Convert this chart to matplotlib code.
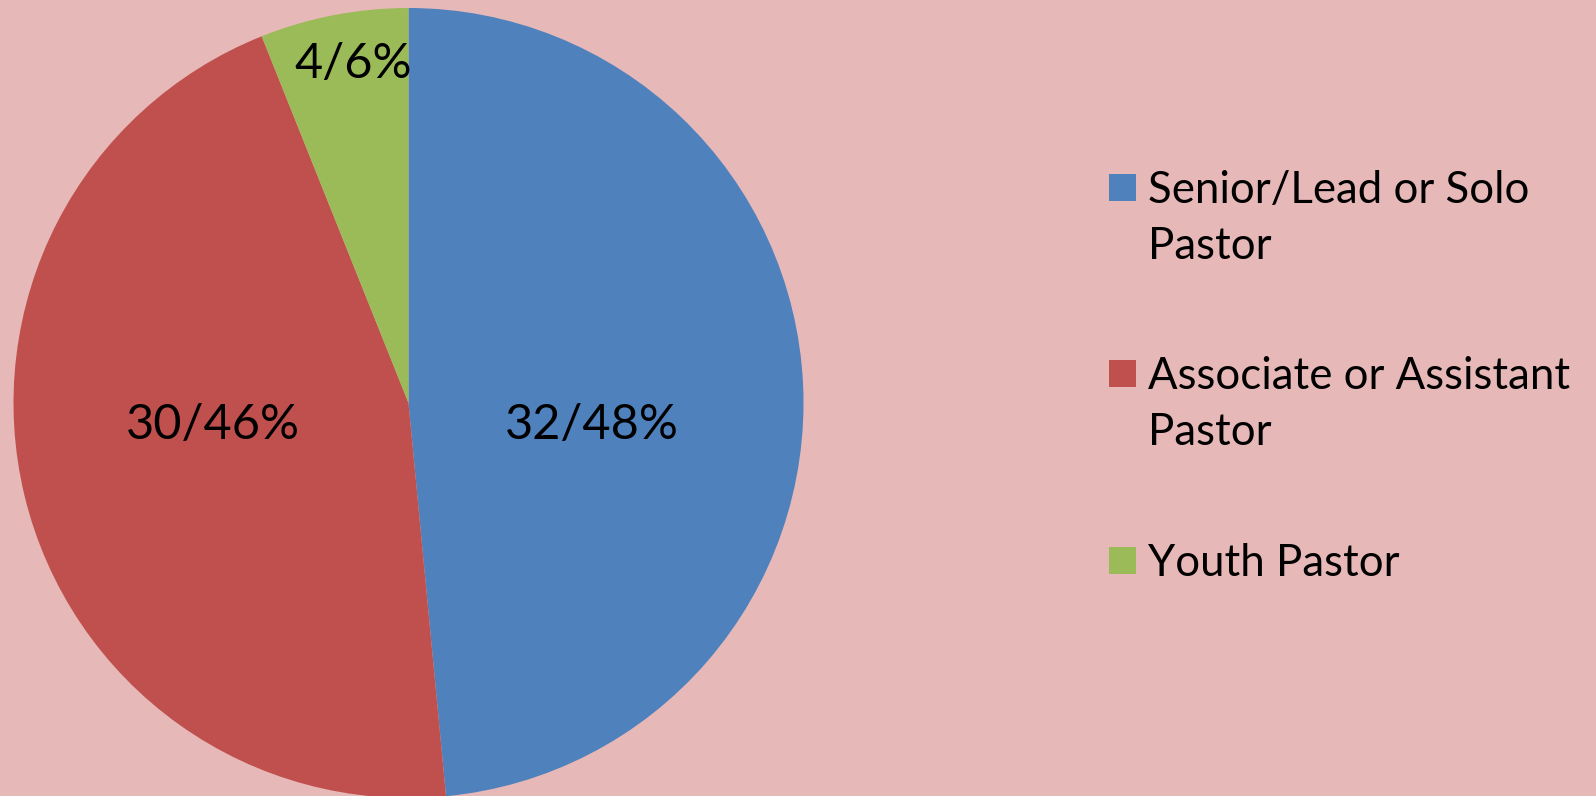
import matplotlib.pyplot as plt
from matplotlib.patches import Rectangle

# data
roles = ['Senior/Lead or Solo Pastor', 'Associate or Assistant Pastor', 'Youth Pastor']
legend_lines = [['Senior/Lead or Solo', 'Pastor'], ['Associate or Assistant', 'Pastor'], ['Youth Pastor']]
counts = [32, 30, 4]
pct_labels = ['32/48%', '30/46%', '4/6%']
colors = ['#4F81BD', '#C0504D', '#9BBB59']
bg = '#E6B8B7'

plt.rcParams['font.family'] = ['Lato', 'DejaVu Sans']

W, H = 1596, 796
fig = plt.figure(figsize=(W / 100, H / 100), dpi=100, facecolor=bg)

# pie axes placed in pixels: centre (408.5, 403 from top), radius 395
cx, cy, r = 408.5, 403, 395
ax = fig.add_axes([(cx - r) / W, (H - cy - r) / H, 2 * r / W, 2 * r / H])
ax.set_facecolor(bg)
wedges, _ = ax.pie(counts, colors=colors, startangle=90, counterclock=False,
                   radius=1.0, wedgeprops=dict(linewidth=0))
ax.set_xlim(-1, 1)
ax.set_ylim(-1, 1)
ax.set_aspect('equal')
ax.axis('off')

# label positions (in pie radius units)
label_pos = [(0.465, -0.056), (-0.495, -0.056), (-0.14, 0.858)]
for txt, (x, y) in zip(pct_labels, label_pos):
    ax.text(x, y, txt, ha='center', va='center', fontsize=35, color='black')

# legend drawn by hand
sq = 27
sq_x = 1109
centres = [187, 373, 560]
text_x = 1148
cap = 32
line_gap = 56
for lines, col, yc in zip(legend_lines, colors, centres):
    fig.patches.append(Rectangle((sq_x / W, (H - yc - sq / 2) / H), sq / W, sq / H,
                                 transform=fig.transFigure, facecolor=col,
                                 edgecolor='none'))
    for i, line in enumerate(lines):
        base = yc + cap / 2 + i * line_gap
        fig.text(text_x / W, (H - base) / H, line, ha='left', va='baseline',
                 fontsize=31.5, color='black')

fig.savefig('out.png', dpi=100, facecolor=bg)
